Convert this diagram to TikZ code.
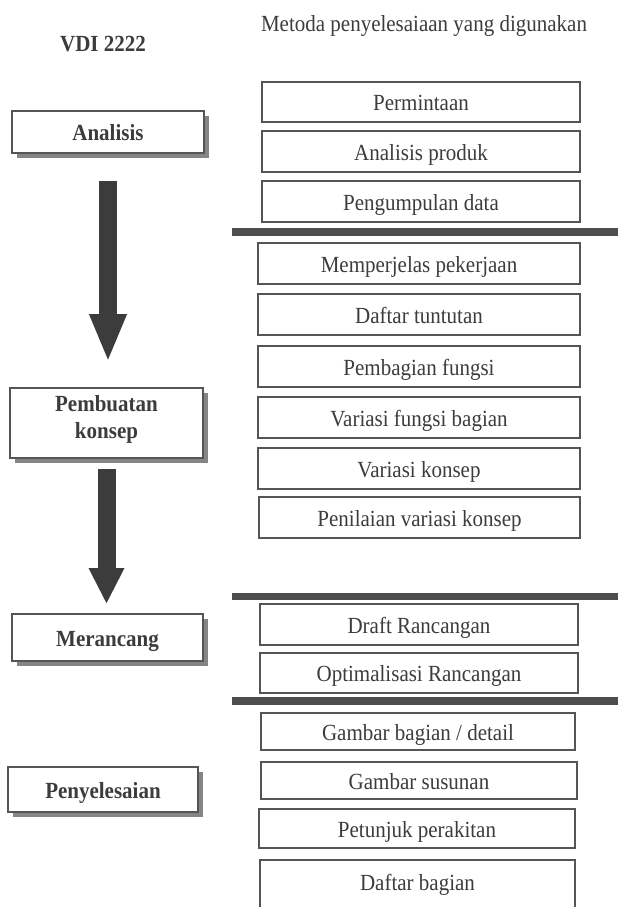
\documentclass[tikz,border=0pt]{standalone}
\usepackage{fontspec}
\setmainfont{Liberation Serif}
\usetikzlibrary{arrows.meta,shadows}
\definecolor{ink}{HTML}{3C3C3C}
\definecolor{frame}{HTML}{555555}
\definecolor{barc}{HTML}{4E4E4E}
\definecolor{shad}{HTML}{858585}
\tikzset{
  rbox/.style={draw=frame, line width=1.5pt, fill=white, inner sep=0pt, text=ink,
    font=\fontsize{21}{25}\selectfont, text height=19pt, text depth=2pt},
  lbox/.style={rbox, font=\fontsize{21}{25}\selectfont\bfseries, line width=1.8pt,
    drop shadow={shadow xshift=5pt, shadow yshift=-5pt, fill=shad, opacity=1}},
  sepbar/.style={fill=barc, draw=none},
  bigarrow/.style={draw=ink, line width=18pt},
  titletext/.style={text=ink, font=\fontsize{21}{25}\selectfont, inner sep=0pt, anchor=base},
}
\newcommand\tall[1]{\scalebox{1}[1.1]{#1}}
\newcommand\rbx[7][]{\node[rbox, #1, minimum width={#4-#3}, minimum height={#6-#5}] (#2) at ({(#3+#4)/2},{(#5+#6)/2}) {\tall{#7}};}
\newcommand\lbx[7][]{\node[lbox, #1, minimum width={#4-#3}, minimum height={#6-#5}] (#2) at ({(#3+#4)/2},{(#5+#6)/2}) {\tall{#7}};}
\begin{document}
\begin{tikzpicture}[x=1pt,y=-1pt]
\useasboundingbox (0,0) rectangle (618,907);
\clip (0,0) rectangle (618,907);
% titles
\node[titletext] (vdi) at (103,52) {\tall{\bfseries VDI 2222}};
\node[titletext] (met) at (424,32) {\tall{Metoda penyelesaiaan yang digunakan}};
% separator bars
\fill[sepbar] (232,228) rectangle (618,236);
\fill[sepbar] (232,593) rectangle (618,600);
\fill[sepbar] (232,697) rectangle (618,705);
% right boxes
\rbx{r1}{262}{580}{82}{122}{Permintaan}
\rbx{r2}{262}{580}{131}{172}{Analisis produk}
\rbx{r3}{262}{580}{181}{222}{Pengumpulan data}
\rbx{r4}{258}{580}{243}{284}{Memperjelas pekerjaan}
\rbx{r5}{258}{580}{294}{335}{Daftar tuntutan}
\rbx{r6}{258}{580}{346}{387}{Pembagian fungsi}
\rbx{r7}{258}{580}{397}{438}{Variasi fungsi bagian}
\rbx{r8}{258}{580}{448}{489}{Variasi konsep}
\rbx{r9}{259}{580}{497}{538}{Penilaian variasi konsep}
\rbx{r10}{260}{578}{604}{645}{Draft Rancangan}
\rbx{r11}{260}{578}{653}{693}{Optimalisasi Rancangan}
\rbx{r12}{261}{575}{713}{750}{Gambar bagian / detail}
\rbx{r13}{261}{577}{762}{799}{Gambar susunan}
\rbx{r14}{259}{575}{809}{848}{Petunjuk perakitan}
\rbx[text height=10pt, text depth=2pt]{r15}{260}{575}{860}{912}{Daftar bagian}
% left boxes
\lbx{an}{12}{204}{111}{153}{Analisis}
\lbx[text height={}, text depth={}]{pk}{10}{203}{388}{458}{\raisebox{0pt}[\height][\dimexpr\depth+6pt]{\begin{tabular}{@{}c@{}}Pembuatan\\konsep\end{tabular}}}
\lbx{mr}{12}{203}{614}{661}{Merancang}
\lbx{py}{8}{198}{767}{812}{Penyelesaian}
% arrows
\draw[bigarrow, -{Triangle[width=34pt,length=48pt]}] ([yshift=-27pt]an.south) -- ([yshift=25pt]an.south |- pk.north);
\draw[bigarrow, -{Triangle[width=33pt,length=36pt]}] ([yshift=-10pt]pk.south) -- ([yshift=9pt]pk.south |- mr.north);
\end{tikzpicture}
\end{document}
